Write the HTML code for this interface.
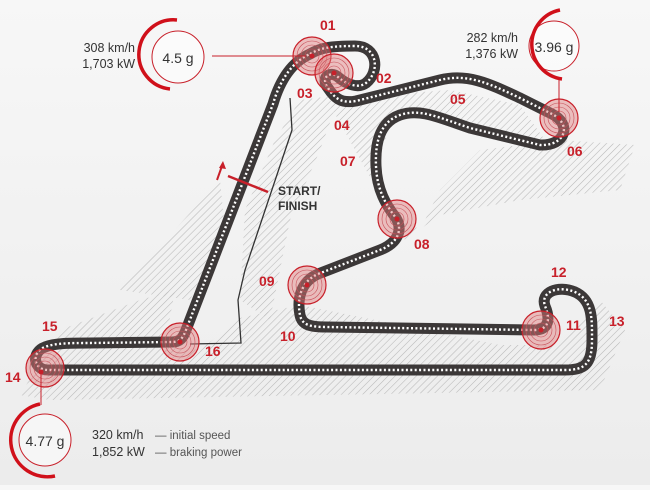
<!DOCTYPE html>
<html><head><meta charset="utf-8"><style>
html,body{margin:0;padding:0}
body{width:650px;height:485px;overflow:hidden;background:linear-gradient(180deg,#f7f7f7,#ececec);font-family:"Liberation Sans",sans-serif}
</style></head><body>
<svg width="650" height="485" viewBox="0 0 650 485" xmlns="http://www.w3.org/2000/svg" font-family="Liberation Sans, sans-serif">
<defs>
<pattern id="h" width="5" height="5" patternUnits="userSpaceOnUse" patternTransform="rotate(45)">
<line x1="0" y1="0" x2="0" y2="5" stroke="#b8b8b8" stroke-width="1.1"/>
</pattern>
<path id="trk" d="M310,54 C320,48 330,46 355,46 C378,46 380,72 366,83 C358,89 346,84 338,77 C330,70 320,78 328,88 C334,97 340,104 356,101 L440,80 C468,73 490,84 520,98 L552,114 C572,124 566,146 540,145 L470,128 C440,118 420,108 400,115 C380,122 375,142 376,166 C377,190 386,205 396,218 C403,230 398,243 380,250 L318,274 C300,282 297,300 300,315 C302,325 310,327 326,327 L534,330 C550,330 550,318 545,306 C540,292 558,285 575,292 C593,300 592,320 592,340 C592,364 585,370 565,370 L48,370 C33,370 31,352 45,347 C55,343 70,343 90,343 L172,342 C180,342 183,338 186,330 L273,104 C280,80 292,62 310,54 Z"/>
<g id="bc">
<circle r="19" fill="#e07a7a" fill-opacity="0.45" stroke="#c8202a" stroke-width="1.2"/>
<circle r="15" fill="none" stroke="#c8505a" stroke-width="0.6"/>
<circle r="11" fill="none" stroke="#c8505a" stroke-width="0.6"/>
<circle r="7" fill="none" stroke="#c8505a" stroke-width="0.6"/>
</g>
</defs>
<g fill="url(#h)">
<polygon points="20,395 60,330 140,300 175,290 165,345 200,350 240,318 300,305 500,345 560,345 600,300 625,330 600,390 50,400"/>
<polygon points="240,300 245,210 275,140 300,100 340,95 320,150 290,220 270,320"/>
<polygon points="190,300 120,290 220,180 225,230"/>
<polygon points="330,105 380,95 450,90 520,105 545,140 480,130 420,112 390,125 375,170 390,210 420,230 440,190 480,150 560,140 635,145 620,190 520,200 440,215 405,240"/>
</g>
<path d="M290,98 L292,130 L245,270 L238,300 L241,343 L190,344" fill="none" stroke="#333" stroke-width="1.3"/>
<use href="#trk" fill="none" stroke="#3c3838" stroke-width="11" stroke-linejoin="round"/>
<use href="#trk" fill="none" stroke="#fff" stroke-width="2.4" stroke-dasharray="2 2.4"/>
<use href="#bc" x="312" y="56"/>
<use href="#bc" x="334" y="73"/>
<use href="#bc" x="559" y="118"/>
<use href="#bc" x="397" y="219"/>
<use href="#bc" x="307" y="285"/>
<use href="#bc" x="541" y="330"/>
<use href="#bc" x="180" y="342"/>
<use href="#bc" x="45" y="368"/>
<g fill="#c8202a">
<circle cx="312" cy="56" r="2.5"/><circle cx="334" cy="73" r="2.5"/><circle cx="559" cy="118" r="2.5"/><circle cx="397" cy="219" r="2.5"/><circle cx="307" cy="285" r="2.5"/><circle cx="541" cy="330" r="2.5"/><circle cx="180" cy="342" r="2.5"/><circle cx="41" cy="372" r="2.5"/>
</g>
<g fill="#c8202a" font-size="14" font-weight="bold">
<text x="320" y="30">01</text><text x="376" y="83">02</text><text x="297" y="98">03</text><text x="334" y="130">04</text><text x="450" y="104">05</text><text x="567" y="156">06</text><text x="340" y="166">07</text><text x="414" y="249">08</text><text x="259" y="286">09</text><text x="280" y="341">10</text><text x="566" y="330">11</text><text x="551" y="277">12</text><text x="609" y="326">13</text><text x="5" y="382">14</text><text x="42" y="331">15</text><text x="205" y="356">16</text>
</g>
<line x1="228" y1="176" x2="268" y2="192" stroke="#c8202a" stroke-width="2.5"/>
<line x1="217" y1="180" x2="222" y2="166" stroke="#c8202a" stroke-width="2"/>
<polygon points="223,161 219,168 226,169" fill="#c8202a"/>
<g fill="#333" font-size="12" font-weight="bold"><text x="278" y="195">START/</text><text x="278" y="210">FINISH</text></g>
<line x1="212" y1="56" x2="306" y2="56" stroke="#c8202a" stroke-width="1"/>
<circle cx="178" cy="57" r="26" fill="#fff" fill-opacity="0.5" stroke="#c8202a" stroke-width="1"/>
<path d="M177,20 A33,33 0 0 0 170,89" fill="none" stroke="#d0101a" stroke-width="3.5"/>
<text x="178" y="63" font-size="14" text-anchor="middle" fill="#333">4.5 g</text>
<g font-size="12.5" fill="#333" text-anchor="end"><text x="135" y="52">308 km/h</text><text x="135" y="68">1,703 kW</text></g>
<line x1="559" y1="78" x2="559" y2="112" stroke="#c8202a" stroke-width="1"/>
<circle cx="554" cy="46" r="25" fill="#fff" fill-opacity="0.5" stroke="#c8202a" stroke-width="1"/>
<path d="M560,10 A35,35 0 0 0 562,79" fill="none" stroke="#d0101a" stroke-width="3.5"/>
<text x="554" y="52" font-size="14" text-anchor="middle" fill="#333">3.96 g</text>
<g font-size="12.5" fill="#333" text-anchor="end"><text x="518" y="42">282 km/h</text><text x="518" y="58">1,376 kW</text></g>
<line x1="41" y1="372" x2="41" y2="405" stroke="#c8202a" stroke-width="1"/>
<circle cx="45" cy="440" r="26" fill="#fff" fill-opacity="0.5" stroke="#c8202a" stroke-width="1"/>
<path d="M40,404 A35,35 0 0 0 55,476" fill="none" stroke="#d0101a" stroke-width="3.5"/>
<text x="45" y="446" font-size="14" text-anchor="middle" fill="#333">4.77 g</text>
<g font-size="12.5" fill="#333"><text x="92" y="439">320 km/h</text><text x="92" y="456">1,852 kW</text></g>
<g font-size="11.5" fill="#555"><text x="155" y="439">— initial speed</text><text x="155" y="456">— braking power</text></g>
</svg>
</body></html>
